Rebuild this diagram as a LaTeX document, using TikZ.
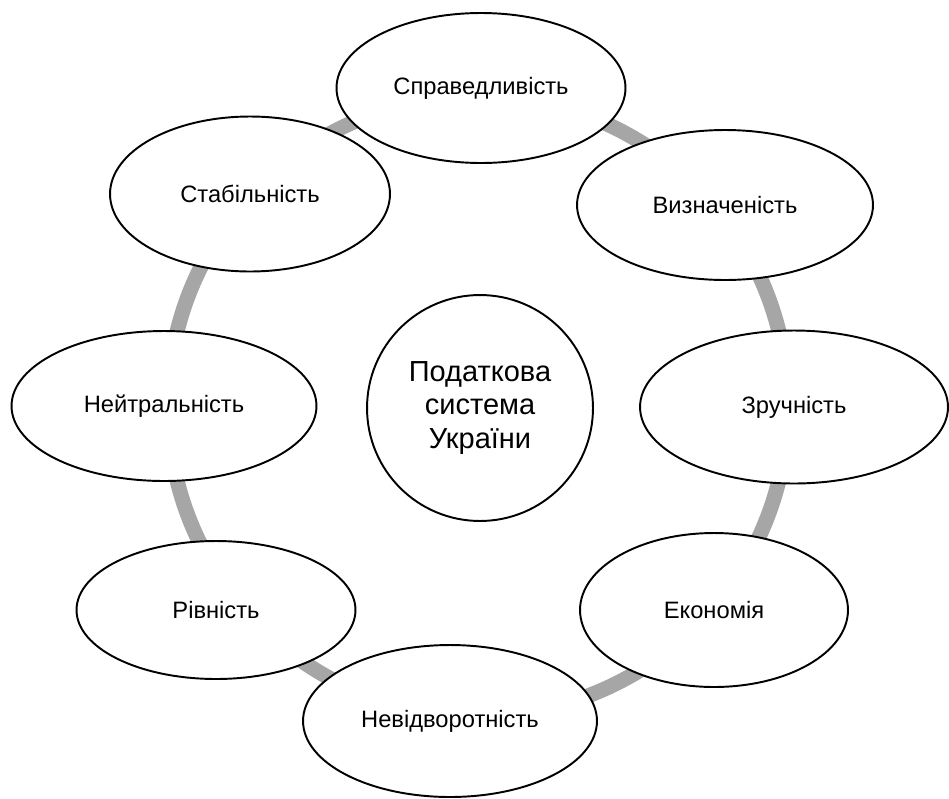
\documentclass[tikz,border=0pt]{standalone}
\usepackage{fontspec}
\setmainfont{Liberation Sans}
\definecolor{ringgray}{RGB}{166,166,166}
\usetikzlibrary{shapes.geometric}

\begin{document}
\begin{tikzpicture}[
  x=0.02cm, y=-0.02cm,
  pbox/.style={ellipse, draw=black, line width=1.1pt, fill=white,
               inner sep=0pt, font=\fontsize{13.5}{16}\selectfont, align=center},
  hubbox/.style={circle, draw=black, line width=1.1pt, fill=white,
                 minimum size=4.52cm, inner sep=0pt,
                 font=\fontsize{16.5}{19}\selectfont, align=center},
  ring/.style={draw=ringgray, line width=0.3cm}
]
\useasboundingbox (0,0) rectangle (949,798);

% Ring behind the principles
\coordinate (hub) at (478,406);
\draw[ring] (hub) circle (6.2cm);

% Principles
\node[pbox, minimum width=5.78cm, minimum height=3.0cm]  (sprav)  at (481, 88)  {Справедливість};
\node[pbox, minimum width=5.92cm, minimum height=3.0cm]  (vyzn)   at (725,205)  {Визначеність};
\node[pbox, minimum width=6.16cm, minimum height=3.06cm] (zruch)  at (794,407)  {Зручність};
\node[pbox, minimum width=5.36cm, minimum height=3.08cm] (ekon)   at (714,610)  {Економія};
\node[pbox, minimum width=5.88cm, minimum height=3.04cm] (nevidv) at (450,721)  {Невідворотність};
\node[pbox, minimum width=5.58cm, minimum height=2.76cm] (rivn)   at (216,610)  {Рівність};
\node[pbox, minimum width=6.10cm, minimum height=3.0cm]  (neitr)  at (164,406)  {Нейтральність};
\node[pbox, minimum width=5.60cm, minimum height=3.10cm] (stab)   at (250,194)  {Стабільність};

% Center
\node[hubbox] (system) at (480,408) {Податкова\\система\\України};
\end{tikzpicture}
\end{document}
